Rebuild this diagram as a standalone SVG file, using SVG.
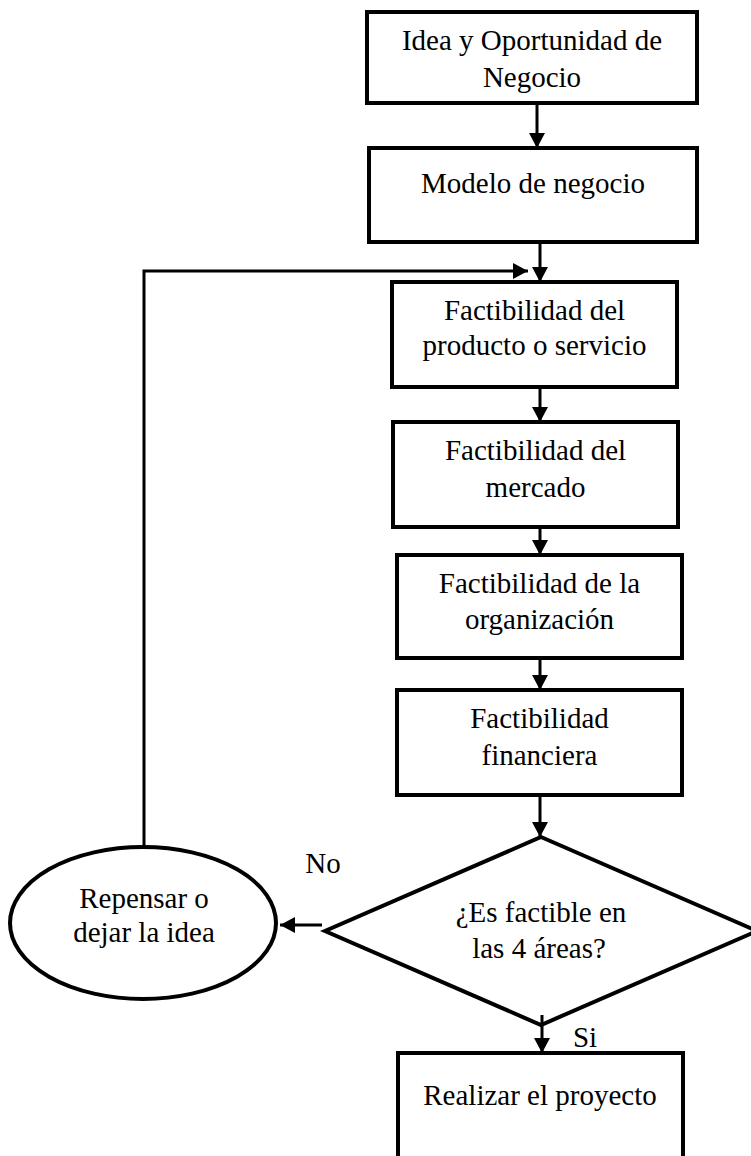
<svg xmlns="http://www.w3.org/2000/svg" width="751" height="1156" viewBox="0 0 751 1156">
<style>
.box{fill:#fff;stroke:#000;stroke-width:4}
.t{font-family:"Liberation Serif","Times New Roman",serif;font-size:29px;fill:#000;text-anchor:middle}
.c{fill:none;stroke:#000;stroke-width:3}
</style>
<defs>
<marker id="ah" markerUnits="userSpaceOnUse" markerWidth="18" markerHeight="18" refX="15" refY="8" orient="auto">
<path d="M0,0 L15,8 L0,16 z" fill="#000"/>
</marker>
</defs>
<rect width="751" height="1156" fill="#fff"/>
<g id="n1"><rect class="box" x="367" y="12" width="330" height="91"/><text class="t" x="532" y="50">Idea y Oportunidad de</text><text class="t" x="532" y="87">Negocio</text></g>
<g id="n2"><rect class="box" x="369" y="148" width="328" height="94"/><text class="t" x="533" y="193">Modelo de negocio</text></g>
<g id="n3"><rect class="box" x="392" y="282" width="285" height="105"/><text class="t" x="534.5" y="320">Factibilidad del</text><text class="t" x="534.5" y="355">producto o servicio</text></g>
<g id="n4"><rect class="box" x="393" y="422" width="285" height="105"/><text class="t" x="535.5" y="460">Factibilidad del</text><text class="t" x="535.5" y="497">mercado</text></g>
<g id="n5"><rect class="box" x="397" y="555" width="285" height="103"/><text class="t" x="539.5" y="593">Factibilidad de la</text><text class="t" x="539.5" y="629">organización</text></g>
<g id="n6"><rect class="box" x="397" y="690" width="285" height="105"/><text class="t" x="539.5" y="728">Factibilidad</text><text class="t" x="539.5" y="765">financiera</text></g>
<g id="n7"><polygon class="box" points="541,837 757,931 541,1025 325,931"/><text class="t" x="541" y="922">¿Es factible en</text><text class="t" x="539" y="958">las 4 áreas?</text></g>
<g id="n8"><ellipse class="box" cx="143" cy="923" rx="133" ry="76"/><text class="t" x="144" y="908">Repensar o</text><text class="t" x="144" y="942">dejar la idea</text></g>
<g id="n9"><rect class="box" x="398" y="1053" width="285" height="110"/><text class="t" x="540" y="1105">Realizar el proyecto</text></g>
<g id="connectors">
<path class="c" d="M537,103 L537,148" marker-end="url(#ah)"/>
<path class="c" d="M540,242 L540,282" marker-end="url(#ah)"/>
<path class="c" d="M144,847 L144,271 L528,271" marker-end="url(#ah)"/>
<path class="c" d="M540,387 L540,422" marker-end="url(#ah)"/>
<path class="c" d="M540,527 L540,555" marker-end="url(#ah)"/>
<path class="c" d="M540,658 L540,690" marker-end="url(#ah)"/>
<path class="c" d="M540,795 L540,837" marker-end="url(#ah)"/>
<path class="c" d="M322,925 L280,925" marker-end="url(#ah)"/>
<path class="c" d="M542,1015 L542,1053" marker-end="url(#ah)"/>
</g>
<g id="labels"><text class="t" x="323" y="873">No</text><text class="t" x="585" y="1047">Si</text></g>
</svg>
